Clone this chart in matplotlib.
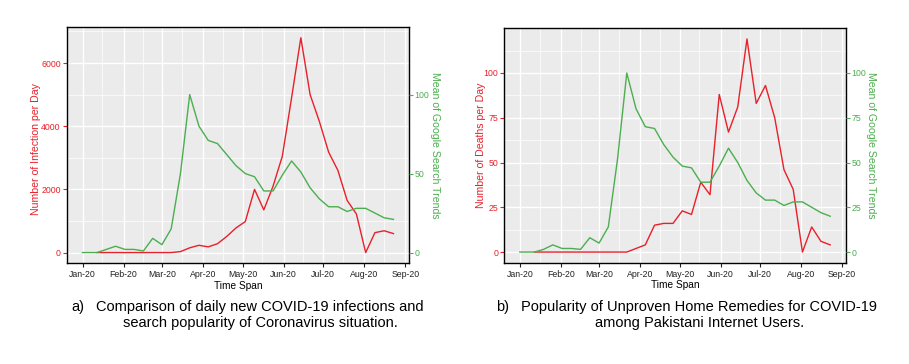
import matplotlib
matplotlib.use('Agg')
import matplotlib.pyplot as plt
import matplotlib.dates as mdates
import matplotlib.ticker as mticker
import numpy as np
import pandas as pd

plt.rcParams['font.family'] = ['Liberation Sans', 'DejaVu Sans']

# weekly points (Google Trends weeks), first one on 1 Jan
dates = pd.to_datetime(['2020-01-01']).append(pd.date_range('2020-01-05', '2020-08-23', freq='7D'))

# panel a: daily new infections and search trend
infections = [np.nan, np.nan, 0, 0, 0, 0, 0, 0, 0, 0, 0, 30, 150, 230, 180, 280, 510, 780,
              980, 2000, 1350, 2100, 3050, 4900, 6800, 5000, 4150, 3180, 2600, 1650, 1220,
              0, 630, 690, 600]
trend_a = [0, 0, 0, 2, 4, 2, 2, 1, 9, 5, 15, 50, 100, 80, 71, 69, 62, 55, 50, 48, 39, 39,
           49, 58, 51, 41, 34, 29, 29, 26, 28, 28, 25, 22, 21]

# panel b: daily deaths and home remedies search trend
deaths = [np.nan, np.nan, 0, 0, 0, 0, 0, 0, 0, 0, 0, 0, 0, 2, 4, 15, 16, 16, 23, 21, 39, 32,
          88, 67, 81, 119, 83, 93, 75, 46, 35, 0, 14, 6, 4]
trend_b = [0, 0, 0, 1.5, 4, 2, 2, 1.5, 8, 5, 14, 52, 100, 80, 70, 69, 60, 53, 48, 47, 39, 39,
           48, 58, 50, 40, 33, 29, 29, 26, 28, 28, 25, 22, 20]

ticks_a_left = [0, 2000, 4000, 6000]
ticks_a_right = [0, 50, 100]
ticks_b_left = [0, 25, 50, 75, 100]
ticks_b_right = [0, 25, 50, 75, 100]

RED = '#e8202a'
GREEN = '#4cae4f'
W, H = 909, 364


def panel(ax, red, green, scale, lticks, rticks, lminor):
    ax.set_facecolor('#ebebeb')
    ax.plot(dates, red, color=RED, lw=1.0, zorder=3)
    ax.margins(x=0.05, y=0.05)
    lo, hi = ax.get_ylim()
    ax.set_ylim(lo, hi)
    ax2 = ax.twinx()
    ax2.plot(dates, green, color=GREEN, lw=1.0)
    ax2.set_ylim(lo / scale, hi / scale)

    ax.xaxis.set_major_locator(mdates.MonthLocator())
    ax.xaxis.set_minor_locator(mdates.MonthLocator(bymonthday=16))
    ax.xaxis.set_major_formatter(mdates.DateFormatter('%b-%y'))
    ax.set_yticks(lticks)
    ax.yaxis.set_minor_locator(mticker.MultipleLocator(lminor))
    ax2.set_yticks(rticks)
    ax2.yaxis.set_minor_locator(mticker.NullLocator())

    ax.grid(True, which='major', color='white', lw=1.0)
    ax.grid(True, which='minor', color='white', lw=0.5)
    ax.set_axisbelow(True)

    ax.tick_params(axis='x', which='major', labelsize=6.3, colors='#222222', length=3, pad=2)
    ax.tick_params(axis='y', which='major', labelsize=6.3, colors=RED, length=3, pad=1.5)
    ax.tick_params(which='minor', length=0)
    ax2.tick_params(axis='y', labelsize=6.3, colors=GREEN, length=3, pad=1)
    for s in ax.spines.values():
        s.set_color('black')
        s.set_linewidth(1.0)
    for s in ax2.spines.values():
        s.set_visible(False)
    ax.set_xlabel('Time Span', fontsize=7.3, labelpad=1)
    return ax2


fig = plt.figure(figsize=(W / 100, H / 100), dpi=100)
ax_a = fig.add_axes([67 / W, 1 - 263.3 / H, 342 / W, 236.3 / H])
ax_b = fig.add_axes([504.3 / W, 1 - 262.7 / H, 341.4 / W, 234.4 / H])

panel(ax_a, infections, trend_a, 50, ticks_a_left, ticks_a_right, 1000)
panel(ax_b, deaths, trend_b, 1, ticks_b_left, ticks_b_right, 12.5)

fig.text(35.8 / W, 1 - 149 / H, 'Number of Infection per Day', color=RED, fontsize=7.6,
         rotation=90, ha='center', va='center')
fig.text(435 / W, 1 - 145 / H, 'Mean of Google Search Trends', color=GREEN, fontsize=7.6,
         rotation=-90, ha='center', va='center')
fig.text(481 / W, 1 - 145 / H, 'Number of Deaths per Day', color=RED, fontsize=7.6,
         rotation=90, ha='center', va='center')
fig.text(871 / W, 1 - 145 / H, 'Mean of Google Search Trends', color=GREEN, fontsize=7.6,
         rotation=-90, ha='center', va='center')

# captions under the panels
fig.text(71 / W, 1 - 310.5 / H, 'a)', fontsize=10.5, va='baseline', ha='left')
fig.text(260 / W, 1 - 310.5 / H, 'Comparison of daily new COVID-19 infections and',
         fontsize=10.5, va='baseline', ha='center')
fig.text(260 / W, 1 - 326.5 / H, 'search popularity of Coronavirus situation.',
         fontsize=10.5, va='baseline', ha='center')
fig.text(496 / W, 1 - 310.5 / H, 'b)', fontsize=10.5, va='baseline', ha='left')
fig.text(699 / W, 1 - 310.5 / H, 'Popularity of Unproven Home Remedies for COVID-19',
         fontsize=10.5, va='baseline', ha='center')
fig.text(700 / W, 1 - 326.5 / H, 'among Pakistani Internet Users.',
         fontsize=10.5, va='baseline', ha='center')

fig.savefig('out.png', dpi=100)
